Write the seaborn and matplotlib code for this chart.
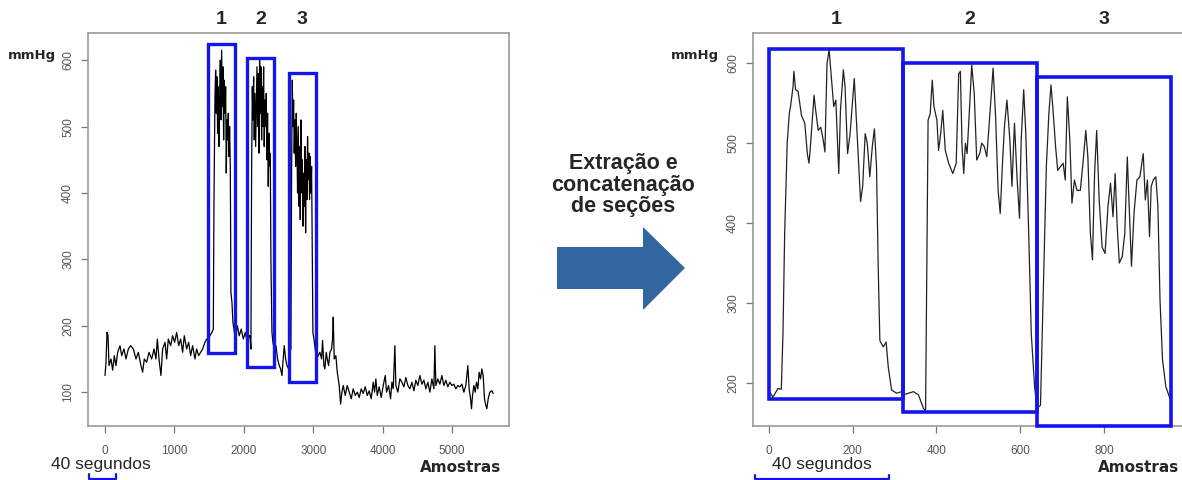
import numpy as np
import pandas as pd
import seaborn as sns
import matplotlib.pyplot as plt
from matplotlib.patches import Rectangle, Polygon

# full recording (left panel): sample index and pressure in mmHg
full_x = [0, 14, 29, 43, 58, 86, 110, 134, 158, 182, 216, 240, 274, 302, 336, 370, 408, 446, 480,
          518, 542, 566, 600, 634, 672, 706, 734, 754, 778, 806, 830, 864, 888, 912, 946, 974,
          1003, 1032, 1061, 1090, 1118, 1142, 1176, 1205, 1234, 1262, 1296, 1320, 1349, 1378,
          1406, 1440, 1464,
          1488, 1512, 1541, 1560, 1570, 1584, 1594, 1603, 1613, 1622, 1632, 1642, 1651, 1661,
          1670, 1680, 1690, 1699, 1709, 1718, 1728, 1738, 1747, 1757, 1766, 1776, 1786, 1795,
          1805, 1814, 1829, 1843, 1858, 1877,
          1906, 1934, 1963, 1992, 2021, 2050, 2078, 2088, 2102,
          2112, 2122, 2131, 2141, 2150, 2160, 2170, 2179, 2189, 2198, 2208, 2218, 2227, 2237,
          2246, 2256, 2266, 2275, 2285, 2294, 2304, 2314, 2323, 2333, 2342, 2352, 2362, 2371,
          2381, 2390, 2405, 2419, 2438,
          2462, 2486, 2510, 2530, 2549, 2568, 2582, 2602, 2621, 2645,
          2664, 2678, 2688, 2698, 2707, 2717, 2726, 2736, 2746, 2755, 2765, 2774, 2784, 2794,
          2803, 2813, 2822, 2832, 2842, 2851, 2861, 2870, 2880, 2890, 2899, 2909, 2918, 2928,
          2938, 2947, 2957, 2966, 2976, 2986, 2995, 3010, 3034,
          3048, 3072, 3096, 3120, 3134, 3154, 3168, 3187, 3202, 3221, 3240, 3264, 3278, 3288,
          3302, 3326, 3346, 3374, 3394, 3413, 3432, 3461, 3490, 3518, 3547, 3576, 3605, 3634,
          3662, 3691, 3720, 3749, 3778, 3806, 3835, 3864, 3883, 3902, 3922, 3950, 3979, 4008,
          4037, 4056, 4085, 4114, 4133, 4152, 4176, 4190, 4219, 4248, 4277, 4306, 4334, 4363,
          4392, 4421, 4450, 4478, 4507, 4536, 4565, 4594, 4622, 4651, 4680, 4709, 4738, 4752,
          4766, 4795, 4824, 4853, 4882, 4910, 4939, 4968, 4997, 5026, 5054, 5083, 5112, 5141,
          5170, 5198, 5227, 5246, 5266, 5280, 5294, 5314, 5333, 5352, 5371, 5390, 5410, 5429,
          5448, 5467, 5486, 5501, 5520, 5544, 5573, 5592]
full_y = [125, 145, 190, 185, 140, 150, 133, 155, 140, 160, 170, 155, 165, 150, 165, 170, 165, 150, 160,
          140, 130, 150, 145, 160, 150, 165, 150, 180, 150, 125, 165, 175, 150, 180, 170, 185,
          175, 190, 170, 180, 160, 185, 165, 175, 155, 170, 150, 165, 155, 160,
          165, 175, 180,
          180, 185, 190, 195, 390, 545, 585, 520, 575, 490, 560, 470, 540, 600,
          510, 615, 530, 590, 480, 570, 520, 560, 430, 510, 480, 520, 455, 500,
          440, 250, 235, 205, 195, 180,
          200, 185, 195, 180, 190, 175, 185, 185, 165,
          430, 560, 510, 575, 480, 550, 470, 530, 590, 500, 580, 460, 600, 520,
          590, 480, 560, 500, 590, 470, 540, 500, 550, 450, 520, 410, 490, 440,
          460, 300, 190, 175, 165,
          170, 150, 140, 135, 125, 150, 170, 150, 140, 135,
          160, 165, 430, 570, 500, 540, 460, 510, 440, 520, 470, 400, 500, 380,
          470, 360, 510, 400, 450, 350, 430, 380, 470, 340, 450, 390, 485, 420,
          460, 390, 455, 400, 440, 300, 190, 180, 160,
          150, 155, 160, 150, 178, 140, 135, 160, 150, 140, 160, 165, 180, 213,
          150, 155, 130, 110, 82, 100, 110, 95, 110, 100, 90, 105, 95, 100,
          92, 105, 98, 108, 95, 102, 90, 115, 100, 120, 95, 108, 92, 110,
          125, 100, 110, 90, 115, 105, 170, 110, 100, 120, 115, 108, 122, 110,
          105, 115, 102, 118, 110, 125, 112, 118, 105, 115, 100, 120, 105, 170,
          110, 120, 112, 125, 110, 118, 108, 115, 110, 112, 105, 110, 108, 112,
          100, 110, 140, 105, 90, 75, 95, 110, 100, 115, 105, 130, 120, 135,
          125, 90, 80, 75, 90, 100, 102, 98]

# concatenated sections (right panel)
cat_x = [0, 10, 22, 30, 34, 38, 44, 49, 52, 58, 60, 64, 70, 78, 86, 92, 96, 100, 108, 112, 118,
         124, 130, 134, 139, 144, 150, 155, 160, 167, 171, 178, 182, 188, 194, 200, 204, 210,
         219, 224, 230, 235, 241, 247, 252, 257, 261, 265, 273, 280, 285, 293, 305, 317,
         321, 345, 357, 369, 374, 377, 380, 385, 390, 394, 401, 405, 410, 415, 421, 429, 439,
         447, 453, 457, 461, 465, 469, 473, 479, 484, 490, 496, 503, 508, 514, 520, 528, 535,
         541, 547, 552, 557, 562, 568, 575, 580, 586, 592, 598, 602, 608, 613, 620, 626, 634,
         640, 648, 656, 662, 668, 673, 678, 684, 689, 696, 702, 707, 712, 718, 723, 729, 735,
         743, 750, 756, 761, 767, 772, 777, 782, 788, 795, 802, 809, 815, 821, 826, 831, 836,
         843, 849, 855, 859, 865, 871, 878, 885, 893, 898, 903, 908, 912, 917, 923, 928, 933,
         939, 947, 957]
cat_y = [191, 182, 193, 192, 262, 387, 500, 537, 546, 571, 590, 567, 565, 535, 525, 487, 475, 500,
         560, 541, 516, 520, 504, 489, 600, 617, 579, 546, 554, 462, 541, 592, 571, 487, 512,
         554, 581, 520, 427, 446, 512, 500, 458, 496, 518, 471, 346, 253, 245, 251, 220, 191,
         187, 189,
         185, 189, 185, 168, 165, 345, 529, 537, 579, 546, 529, 491, 512, 541, 491, 475, 462,
         475, 587, 590, 496, 462, 500, 487, 546, 598, 562, 479, 487, 500, 496, 483, 541, 594,
         533, 441, 412, 471, 520, 554, 504, 446, 525, 458, 406, 504, 567, 512, 387, 262, 195,
         168, 172, 345, 471, 537, 573, 541, 496, 466, 471, 475, 454, 558, 504, 425, 454, 441,
         441, 479, 516, 483, 387, 354, 462, 516, 429, 370, 362, 421, 450, 408, 462, 396, 350,
         358, 387, 483, 429, 346, 412, 454, 458, 487, 429, 454, 383, 446, 454, 458, 421, 304,
         229, 195, 180]

# extracted sections: sample ranges and box limits (mmHg)
section_labels = ["1", "2", "3"]
full_start = [1480, 2046, 2647]
full_end = [1878, 2440, 3036]
full_top = [624, 603, 580]
full_bottom = [159, 138, 115]
cat_start = [0, 320, 639]
cat_end = [320, 639, 960]
cat_top = [618, 601, 583]
cat_bottom = [180, 164, 146]

full_xticks = [0, 1000, 2000, 3000, 4000, 5000]
full_yticks = [100, 200, 300, 400, 500, 600]
cat_xticks = [0, 200, 400, 600, 800]
cat_yticks = [200, 300, 400, 500, 600]

sns.set_style("white")
plt.rcParams["font.family"] = ["Liberation Sans", "DejaVu Sans"]

box_blue = "#1414ee"
tick_grey = "#555555"

fig = plt.figure(figsize=(11.82, 4.8), dpi=100)
W, H = 1182, 480


def panel(px_left, px_right, px_top, px_bottom):
    return fig.add_axes([px_left / W, 1 - px_bottom / H,
                         (px_right - px_left) / W, (px_bottom - px_top) / H])


def style_axes(ax, xticks, yticks):
    ax.set_xticks(xticks)
    ax.set_yticks(yticks)
    ax.set_xticklabels([str(t) for t in xticks])
    ax.set_yticklabels([str(t) for t in yticks], rotation=90, va="center")
    ax.tick_params(axis="both", direction="out", length=5, width=0.9, color="#777777",
                   labelsize=8.5, labelcolor=tick_grey, left=True, bottom=True)
    ax.tick_params(axis="x", pad=9)
    ax.tick_params(axis="y", pad=5)
    ax.set_xlabel("")
    ax.set_ylabel("")
    for s in ax.spines.values():
        s.set_color("#999999")
        s.set_linewidth(1.2)


# left panel: full recording
ax1 = panel(88, 509, 33, 426)
full_df = pd.DataFrame({"amostra": full_x, "mmHg": full_y})
sns.lineplot(data=full_df, x="amostra", y="mmHg", ax=ax1, color="black", linewidth=0.9,
             sort=False, estimator=None)
for s0, s1, top, bot in zip(full_start, full_end, full_top, full_bottom):
    ax1.add_patch(Rectangle((s0, bot), s1 - s0, top - bot, fill=False,
                            edgecolor=box_blue, linewidth=2.4, zorder=3))
ax1.set_xlim(-245, 5820)
ax1.set_ylim(49, 641)
style_axes(ax1, full_xticks, full_yticks)

# right panel: concatenated sections
ax2 = panel(753, 1186, 33, 426)
cat_df = pd.DataFrame({"amostra": cat_x, "mmHg": cat_y})
sns.lineplot(data=cat_df, x="amostra", y="mmHg", ax=ax2, color="#222222", linewidth=0.9,
             sort=False, estimator=None)
for s0, s1, top, bot in zip(cat_start, cat_end, cat_top, cat_bottom):
    ax2.add_patch(Rectangle((s0, bot), s1 - s0, top - bot, fill=False,
                            edgecolor=box_blue, linewidth=2.6, zorder=3, clip_on=False))
ax2.set_xlim(-37.5, 995)
ax2.set_ylim(146, 638)
style_axes(ax2, cat_xticks, cat_yticks)

# section numbers above the boxes
for lab, s0, s1 in zip(section_labels, full_start, full_end):
    xc = ax1.transData.transform(((s0 + s1) / 2, 0))[0]
    fig.text(xc / W, 1 - 20 / H, lab, ha="center", va="center", fontsize=14, fontweight="bold")
for lab, s0, s1 in zip(section_labels, cat_start, cat_end):
    xc = ax2.transData.transform(((s0 + s1) / 2, 0))[0]
    fig.text(xc / W, 1 - 20 / H, lab, ha="center", va="center", fontsize=14, fontweight="bold")

# overlay in pixel coordinates for labels and the arrow
ov = fig.add_axes([0, 0, 1, 1], zorder=5)
ov.set_xlim(0, W)
ov.set_ylim(H, 0)
ov.axis("off")
ov.patch.set_alpha(0)

for xc in (32, 695):
    ov.text(xc, 55, "mmHg", ha="center", va="center", fontsize=9.5, fontweight="bold",
            family="DejaVu Sans")
for xc in (461, 1139):
    ov.text(xc, 467, "Amostras", ha="center", va="center", fontsize=11, fontweight="bold",
            family="DejaVu Sans")

ov.text(101, 464, "40 segundos", ha="center", va="center", fontsize=12.5)
ov.text(822, 465, "40 segundos", ha="center", va="center", fontsize=12.5)
ov.plot([89, 89, 116, 116], [474, 478.5, 478.5, 474], color=box_blue, lw=1.6, clip_on=False)
ov.plot([755, 755, 889, 889], [475, 478.5, 478.5, 475], color=box_blue, lw=1.6, clip_on=False)

ov.text(623, 185, "Extração e\nconcatenação\nde seções", ha="center", va="center",
        fontsize=15.5, fontweight="bold", linespacing=1.05)
ov.add_patch(Polygon([(557, 247), (643, 247), (643, 227), (685, 268), (643, 310),
                      (643, 289), (557, 289)], closed=True, facecolor="#3366a0",
                     edgecolor="none"))

fig.savefig("out.png", dpi=100)
